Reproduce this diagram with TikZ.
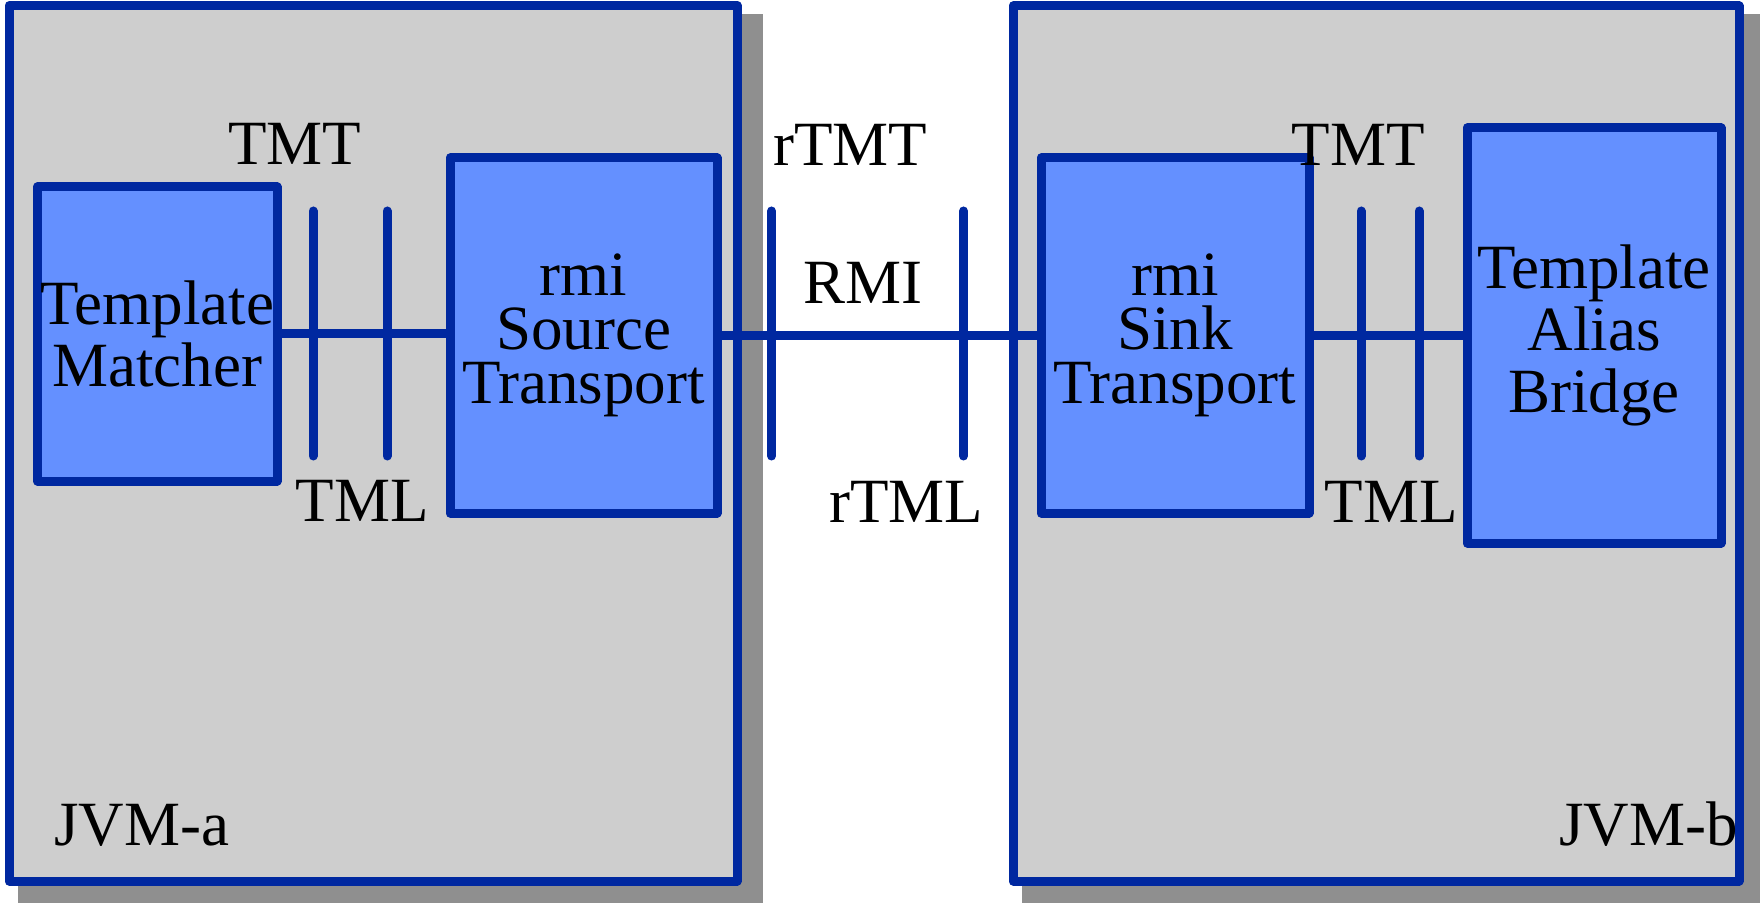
\documentclass[tikz,border=0pt]{standalone}
\usepackage{fontspec}
\setmainfont{Liberation Serif}
\usetikzlibrary{backgrounds}
\definecolor{jvmfill}{HTML}{CECECE}
\definecolor{edgeblue}{HTML}{0028A0}
\definecolor{compfill}{HTML}{6490FF}
\definecolor{shadowgray}{HTML}{8F8F8F}
\begin{document}
\begin{tikzpicture}[x=0.5pt,y=-0.5pt,
  jvm/.style={draw=edgeblue, fill=jvmfill, line width=4.5pt, line join=round, inner sep=0pt},
  comp/.style={draw=edgeblue, fill=compfill, line width=4.5pt, line join=round, inner sep=0pt, align=center},
  wire/.style={draw=edgeblue, line width=4.5pt},
  tickmark/.style={draw=edgeblue, line width=4.5pt, line cap=round},
  lbl/.style={inner sep=0pt, anchor=base, font=\fontsize{31.5}{31}\selectfont},
  twoline/.style={font=\fontsize{31.5}{31}\selectfont},
  threeline/.style={font=\fontsize{31.5}{27}\selectfont},
]
\useasboundingbox (0,0) rectangle (1760,903);

% the two virtual machines
\node[jvm, minimum width=364pt, minimum height=437.75pt] (jvma) at (373,443.25) {};
\node[jvm, minimum width=363pt, minimum height=437.5pt] (jvmb) at (1376,443.5) {};

% drop shadows behind the machines
\begin{scope}[on background layer]
  \fill[shadowgray] ([shift={(13,13)}]jvma.north west) rectangle ([shift={(21,21)}]jvma.south east);
  \fill[shadowgray] ([shift={(13,13)}]jvmb.north west) rectangle ([shift={(40,40)}]jvmb.south east);
\end{scope}

\node[lbl, anchor=base west] (jvmaname) at (54,845) {JVM-a};
\node[lbl, anchor=base east] (jvmbname) at (1738,845) {JVM-b};

% components
\node[comp, twoline, minimum width=119.75pt, minimum height=147pt] (tm) at (157.25,334) {Template\\Matcher};
\node[comp, threeline, minimum width=133.5pt, minimum height=177.5pt] (src) at (583.5,335.5) {rmi\\Source\\Transport};
\node[comp, threeline, minimum width=134pt, minimum height=177.5pt] (sink) at (1175,335.5) {rmi\\Sink\\Transport};
\node[comp, twoline, minimum width=127pt, minimum height=207.5pt] (tab) at (1594,335.5) {Template\\Alias\\Bridge};

% connections between components
\draw[wire] (tm.east) -- (tm.east -| src.west);
\draw[wire] (src.east) -- (sink.west);
\draw[wire] (sink.east) -- (tab.west);

% interface ticks on the connections
\foreach \n/\x in {t1/313, t2/387, t3/771.5, t4/963.5, t5/1361, t6/1419}{
  \coordinate (\n top) at (\x,211);
  \coordinate (\n bot) at (\x,456);
  \draw[tickmark] (\n top) -- (\n bot);
}

% interface labels
\node[lbl] (tmta) at (294.5,165) {TMT};
\node[lbl] (tmla) at (362,521) {TML};
\node[lbl] (rtmt) at (850,166) {rTMT};
\node[lbl] (rmi) at (863,304) {RMI};
\node[lbl] (rtml) at (906,522) {rTML};
\node[lbl] (tmtb) at (1358,166) {TMT};
\node[lbl] (tmlb) at (1391,522) {TML};
\end{tikzpicture}
\end{document}
